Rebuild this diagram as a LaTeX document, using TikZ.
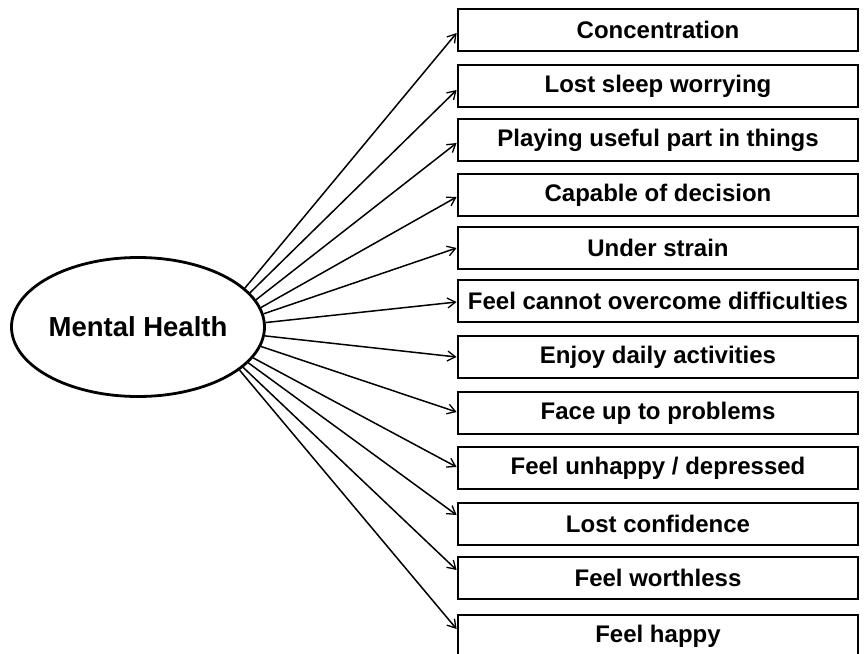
\documentclass[tikz,border=0pt]{standalone}
\usepackage{fontspec}
\setmainfont{Liberation Sans}
\usetikzlibrary{shapes.geometric,arrows.meta,calc}
\begin{document}
\begin{tikzpicture}[x=1pt,y=-1pt,
  itembox/.style={draw=black, line width=2.8pt, minimum width=400pt, minimum height=42pt,
    inner sep=0pt, font=\fontsize{24}{28}\selectfont\bfseries},
  latent/.style={draw=black, ellipse, line width=2.8pt, minimum width=253pt, minimum height=139pt,
    inner sep=0pt, font=\fontsize{27.5}{31}\selectfont\bfseries},
  link/.style={line width=1.5pt, -{Straight Barb[length=8pt,width=10pt,line width=1.3pt]}}]
\useasboundingbox (0,0) rectangle (864,653);
\fill[white] (0,0) rectangle (864,653);

\node[latent] (mh) at (138,327) {Mental Health};

\node[itembox] (b1)  at (658,30)  {Concentration};
\node[itembox] (b2)  at (658,86)  {Lost sleep worrying};
\node[itembox] (b3)  at (658,140) {Playing useful part in things};
\node[itembox] (b4)  at (658,195) {Capable of decision};
\node[itembox] (b5)  at (658,248) {Under strain};
\node[itembox] (b6)  at (658,301) {Feel cannot overcome difficulties};
\node[itembox] (b7)  at (658,357) {Enjoy daily activities};
\node[itembox] (b8)  at (658,413) {Face up to problems};
\node[itembox] (b9)  at (658,468) {Feel unhappy / depressed};
\node[itembox] (b10) at (658,524) {Lost confidence};
\node[itembox] (b11) at (658,578) {Feel worthless};
\node[itembox] (b12) at (658,636) {Feel happy};

\draw[link] (mh.20.9)  -- ($(b1.west)+(0,3)$);
\draw[link] (mh.17.4)  -- ($(b2.west)+(0,4)$);
\draw[link] (mh.13.7)  -- ($(b3.west)+(0,3)$);
\draw[link] (mh.9.2)   -- ($(b4.west)+(0,2)$);
\draw[link] (mh.6.3)   -- (b5.west);
\draw[link] (mh.2.2)   -- ($(b6.west)+(0,1)$);
\draw[link] (mh.-4.9)  -- (b7.west);
\draw[link] (mh.-9.5)  -- ($(b8.west)+(0,-1)$);
\draw[link] (mh.-15.4) -- ($(b9.west)+(0,-1)$);
\draw[link] (mh.-18.3) -- ($(b10.west)+(0,-9)$);
\draw[link] (mh.-21.3) -- ($(b11.west)+(0,-8)$);
\draw[link] (mh.-23.7) -- ($(b12.west)+(0,-7)$);
\end{tikzpicture}
\end{document}
